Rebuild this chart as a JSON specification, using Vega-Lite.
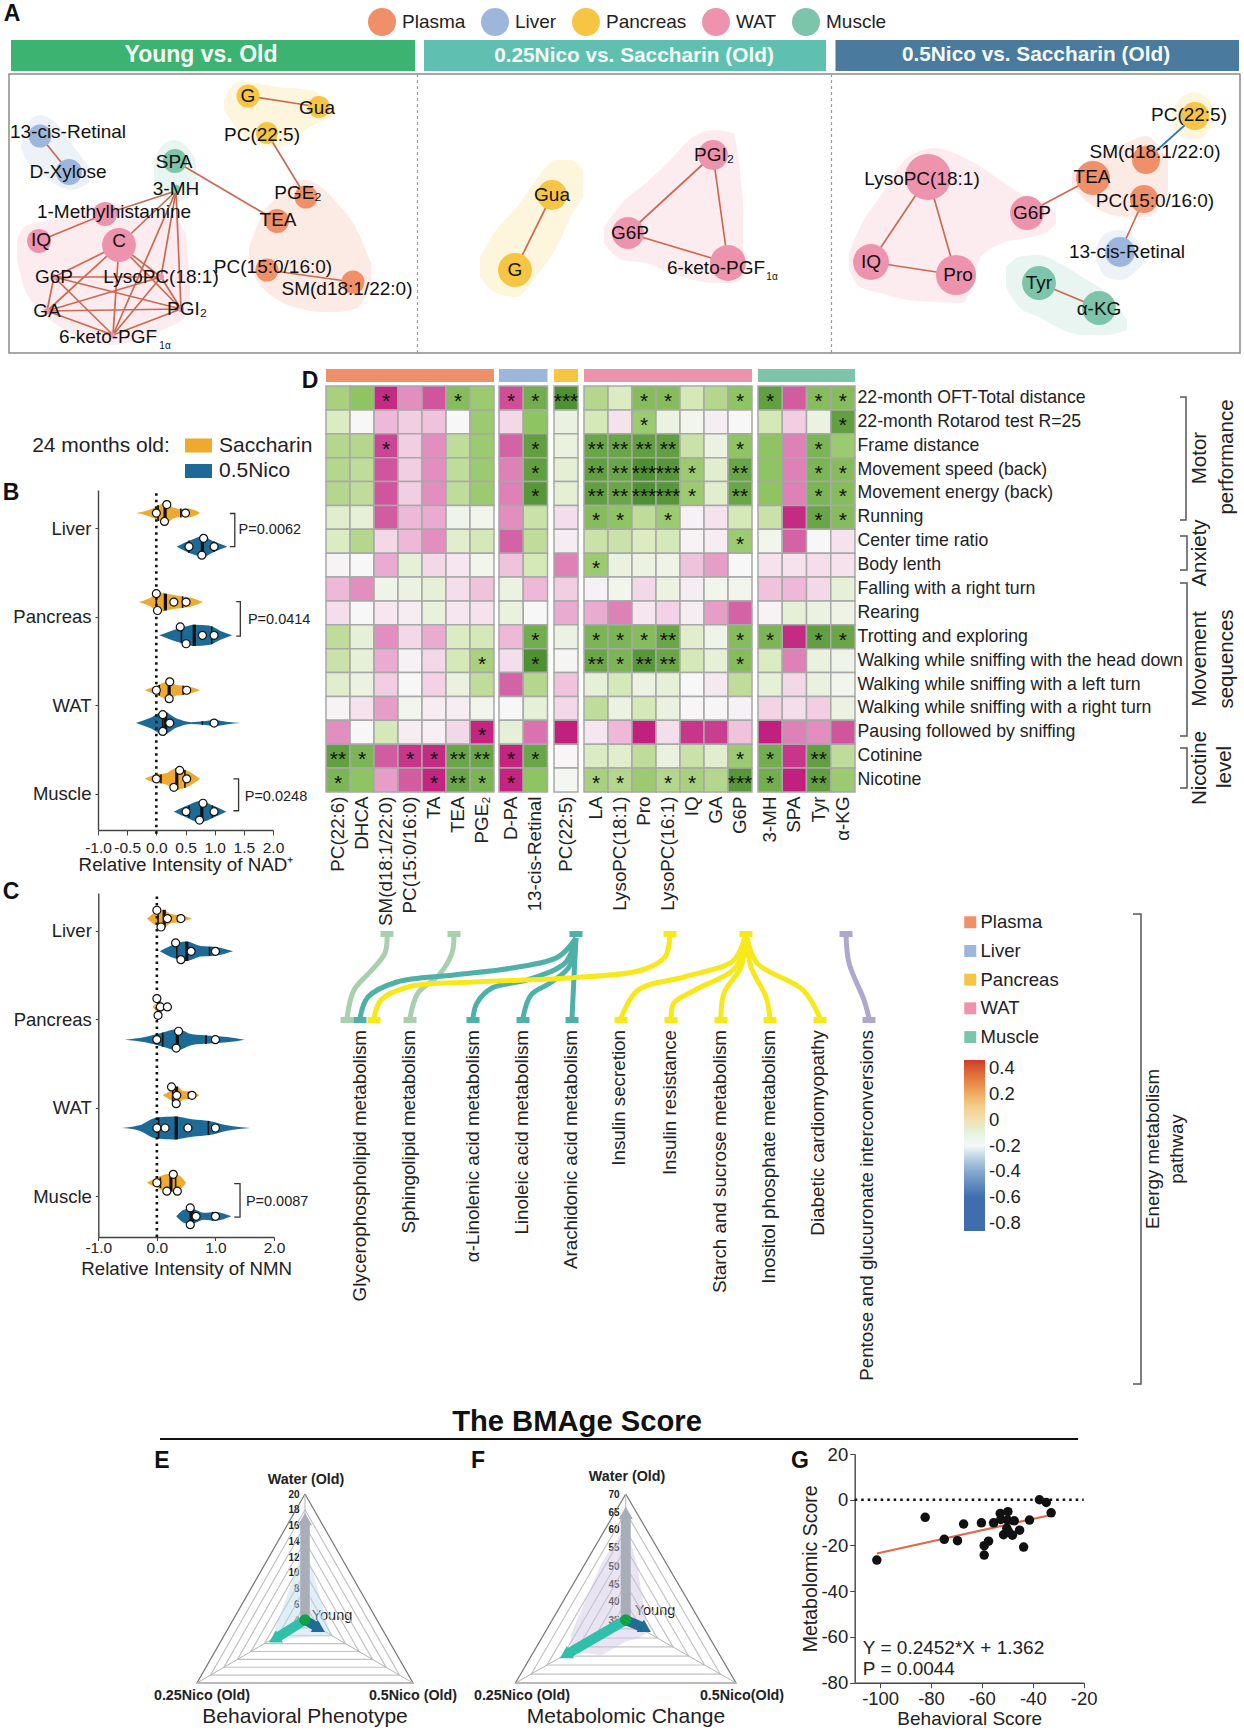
{"$schema":"https://vega.github.io/schema/vega-lite/v6.json","width":1244,"height":1733,"padding":0,"autosize":{"type":"none"},"background":"white",
"config":{"font":"Liberation Sans","view":{"stroke":null},"axis":{"grid":false,"labelFlush":false,"labelColor":"#222","titleColor":"#222","titleFontWeight":"normal","domainColor":"#444","tickColor":"#444","domainWidth":1.4,"labelOverlap":false,"labelFont":"Liberation Sans","titleFont":"Liberation Sans"},"legend":{"labelFont":"Liberation Sans","labelColor":"#222","padding":0},"text":{"font":"Liberation Sans"}},
"resolve":{"scale":{"x":"independent","y":"independent","color":"independent","fill":"independent","stroke":"independent","size":"independent","angle":"independent"},"axis":{"x":"independent","y":"independent"}},
"datasets":{
"hulls":[
{"h":"a1","t":"Liver","x":21,"y":145,"y2":148},{"h":"a1","t":"Liver","x":28,"y":122,"y2":163},{"h":"a1","t":"Liver","x":40,"y":115,"y2":173},{"h":"a1","t":"Liver","x":56,"y":123,"y2":185},{"h":"a1","t":"Liver","x":71,"y":143,"y2":190},{"h":"a1","t":"Liver","x":89,"y":167,"y2":183},
{"h":"a2","t":"Muscle","x":154,"y":160,"y2":187},{"h":"a2","t":"Muscle","x":163,"y":145,"y2":197},{"h":"a2","t":"Muscle","x":175,"y":140,"y2":202},{"h":"a2","t":"Muscle","x":187,"y":147,"y2":198},{"h":"a2","t":"Muscle","x":196,"y":160,"y2":190},
{"h":"a3","t":"WAT","x":17,"y":240,"y2":260},{"h":"a3","t":"WAT","x":24,"y":227,"y2":287},{"h":"a3","t":"WAT","x":40,"y":222,"y2":310},{"h":"a3","t":"WAT","x":60,"y":218,"y2":327},{"h":"a3","t":"WAT","x":87,"y":207,"y2":340},{"h":"a3","t":"WAT","x":113,"y":203,"y2":345},{"h":"a3","t":"WAT","x":139,"y":213,"y2":340},{"h":"a3","t":"WAT","x":167,"y":210,"y2":328},{"h":"a3","t":"WAT","x":185,"y":233,"y2":317},{"h":"a3","t":"WAT","x":190,"y":283,"y2":310},
{"h":"a4","t":"Plasma","x":249,"y":248,"y2":267},{"h":"a4","t":"Plasma","x":262,"y":215,"y2":287},{"h":"a4","t":"Plasma","x":278,"y":197,"y2":300},{"h":"a4","t":"Plasma","x":306,"y":180,"y2":310},{"h":"a4","t":"Plasma","x":321,"y":187,"y2":312},{"h":"a4","t":"Plasma","x":337,"y":203,"y2":312},{"h":"a4","t":"Plasma","x":357,"y":230,"y2":308},{"h":"a4","t":"Plasma","x":371,"y":263,"y2":283},
{"h":"a5","t":"Pancreas","x":224,"y":100,"y2":110},{"h":"a5","t":"Pancreas","x":238,"y":82,"y2":130},{"h":"a5","t":"Pancreas","x":254,"y":83,"y2":143},{"h":"a5","t":"Pancreas","x":278,"y":87,"y2":147},{"h":"a5","t":"Pancreas","x":310,"y":90,"y2":127},{"h":"a5","t":"Pancreas","x":335,"y":107,"y2":115},
{"h":"b1","t":"Pancreas","x":480,"y":257,"y2":277},{"h":"b1","t":"Pancreas","x":496,"y":230,"y2":293},{"h":"b1","t":"Pancreas","x":516,"y":208,"y2":297},{"h":"b1","t":"Pancreas","x":536,"y":180,"y2":277},{"h":"b1","t":"Pancreas","x":556,"y":160,"y2":248},{"h":"b1","t":"Pancreas","x":571,"y":160,"y2":217},{"h":"b1","t":"Pancreas","x":583,"y":170,"y2":197},
{"h":"b2","t":"WAT","x":604,"y":227,"y2":243},{"h":"b2","t":"WAT","x":622,"y":203,"y2":260},{"h":"b2","t":"WAT","x":646,"y":183,"y2":263},{"h":"b2","t":"WAT","x":670,"y":160,"y2":273},{"h":"b2","t":"WAT","x":693,"y":137,"y2":280},{"h":"b2","t":"WAT","x":713,"y":130,"y2":283},{"h":"b2","t":"WAT","x":733,"y":133,"y2":283},{"h":"b2","t":"WAT","x":743,"y":200,"y2":277},
{"h":"c1","t":"WAT","x":849,"y":253,"y2":270},{"h":"c1","t":"WAT","x":860,"y":227,"y2":287},{"h":"c1","t":"WAT","x":880,"y":197,"y2":293},{"h":"c1","t":"WAT","x":908,"y":157,"y2":300},{"h":"c1","t":"WAT","x":935,"y":148,"y2":302},{"h":"c1","t":"WAT","x":963,"y":157,"y2":303},{"h":"c1","t":"WAT","x":981,"y":167,"y2":257},{"h":"c1","t":"WAT","x":1003,"y":182,"y2":243},{"h":"c1","t":"WAT","x":1027,"y":197,"y2":238},{"h":"c1","t":"WAT","x":1047,"y":203,"y2":232},{"h":"c1","t":"WAT","x":1056,"y":213,"y2":223},
{"h":"c2","t":"Plasma","x":1072,"y":173,"y2":187},{"h":"c2","t":"Plasma","x":1094,"y":157,"y2":207},{"h":"c2","t":"Plasma","x":1126,"y":143,"y2":217},{"h":"c2","t":"Plasma","x":1146,"y":136,"y2":217},{"h":"c2","t":"Plasma","x":1168,"y":160,"y2":193},
{"h":"c3","t":"Pancreas","x":1172,"y":110,"y2":123},{"h":"c3","t":"Pancreas","x":1182,"y":97,"y2":137},{"h":"c3","t":"Pancreas","x":1195,"y":92,"y2":140},{"h":"c3","t":"Pancreas","x":1209,"y":100,"y2":130},{"h":"c3","t":"Pancreas","x":1215,"y":110,"y2":120},
{"h":"c4","t":"Liver","x":1096,"y":247,"y2":260},{"h":"c4","t":"Liver","x":1106,"y":233,"y2":277},{"h":"c4","t":"Liver","x":1120,"y":230,"y2":280},{"h":"c4","t":"Liver","x":1134,"y":237,"y2":273},{"h":"c4","t":"Liver","x":1144,"y":250,"y2":263},
{"h":"c5","t":"Muscle","x":1006,"y":267,"y2":287},{"h":"c5","t":"Muscle","x":1019,"y":257,"y2":307},{"h":"c5","t":"Muscle","x":1039,"y":255,"y2":317},{"h":"c5","t":"Muscle","x":1059,"y":263,"y2":328},{"h":"c5","t":"Muscle","x":1082,"y":277,"y2":335},{"h":"c5","t":"Muscle","x":1106,"y":293,"y2":335},{"h":"c5","t":"Muscle","x":1127,"y":320,"y2":330}],
"edges":[
{"sign":"positive","x":248,"y":96,"x2":319,"y2":107},{"sign":"positive","x":267,"y":133,"x2":306,"y2":197},{"sign":"positive","x":175,"y":161,"x2":277,"y2":221},{"sign":"positive","x":267,"y":270,"x2":353,"y2":282},{"sign":"positive","x":40,"y":136,"x2":69,"y2":172},{"sign":"positive","x":105,"y":214,"x2":39,"y2":241},
{"sign":"positive","x":176,"y":191,"x2":105,"y2":214},{"sign":"positive","x":176,"y":191,"x2":119,"y2":245},{"sign":"positive","x":176,"y":191,"x2":161,"y2":277},{"sign":"positive","x":176,"y":191,"x2":181,"y2":309},{"sign":"positive","x":176,"y":191,"x2":113,"y2":335},
{"sign":"positive","x":119,"y":245,"x2":54,"y2":277},{"sign":"positive","x":119,"y":245,"x2":47,"y2":311},{"sign":"positive","x":119,"y":245,"x2":161,"y2":277},{"sign":"positive","x":119,"y":245,"x2":181,"y2":309},{"sign":"positive","x":119,"y":245,"x2":113,"y2":335},{"sign":"positive","x":54,"y":277,"x2":161,"y2":277},{"sign":"positive","x":54,"y":277,"x2":47,"y2":311},{"sign":"positive","x":54,"y":277,"x2":181,"y2":309},{"sign":"positive","x":54,"y":277,"x2":113,"y2":335},{"sign":"positive","x":161,"y":277,"x2":47,"y2":311},{"sign":"positive","x":161,"y":277,"x2":181,"y2":309},{"sign":"positive","x":161,"y":277,"x2":113,"y2":335},{"sign":"positive","x":47,"y":311,"x2":181,"y2":309},{"sign":"positive","x":47,"y":311,"x2":113,"y2":335},{"sign":"positive","x":181,"y":309,"x2":113,"y2":335},
{"sign":"positive","x":552,"y":195,"x2":515,"y2":270},{"sign":"positive","x":713,"y":155,"x2":628,"y2":233},{"sign":"positive","x":713,"y":155,"x2":728,"y2":263},{"sign":"positive","x":628,"y":233,"x2":728,"y2":263},
{"sign":"positive","x":928,"y":177,"x2":871,"y2":262},{"sign":"positive","x":928,"y":177,"x2":956,"y2":275},{"sign":"positive","x":871,"y":262,"x2":956,"y2":275},{"sign":"positive","x":1027,"y":213,"x2":1093,"y2":178},{"sign":"negative","x":1195,"y":116,"x2":1146,"y2":160},{"sign":"positive","x":1144,"y":199,"x2":1120,"y2":252},{"sign":"positive","x":1039,"y":283,"x2":1099,"y2":308}],
"nodes":[
{"t":"Pancreas","x":248,"y":96,"s":415},{"t":"Pancreas","x":319,"y":107,"s":380},{"t":"Pancreas","x":267,"y":133,"s":380},{"t":"Plasma","x":306,"y":197,"s":415},{"t":"Plasma","x":277,"y":221,"s":450},{"t":"Plasma","x":267,"y":270,"s":415},{"t":"Plasma","x":353,"y":282,"s":415},{"t":"Liver","x":40,"y":136,"s":415},{"t":"Liver","x":69,"y":172,"s":530},{"t":"Muscle","x":175,"y":161,"s":450},{"t":"Muscle","x":176,"y":189,"s":60},{"t":"WAT","x":105,"y":214,"s":450},{"t":"WAT","x":39,"y":241,"s":450},{"t":"WAT","x":119,"y":245,"s":900},{"t":"WAT","x":54,"y":277,"s":30},{"t":"WAT","x":161,"y":277,"s":30},{"t":"WAT","x":47,"y":311,"s":30},{"t":"WAT","x":181,"y":309,"s":30},{"t":"WAT","x":113,"y":335,"s":20},
{"t":"Pancreas","x":552,"y":195,"s":700},{"t":"Pancreas","x":515,"y":270,"s":900},{"t":"WAT","x":713,"y":155,"s":700},{"t":"WAT","x":628,"y":233,"s":800},{"t":"WAT","x":728,"y":263,"s":1010},
{"t":"WAT","x":928,"y":177,"s":1660},{"t":"WAT","x":871,"y":262,"s":1010},{"t":"WAT","x":956,"y":275,"s":1260},{"t":"WAT","x":1027,"y":213,"s":900},{"t":"Plasma","x":1093,"y":178,"s":900},{"t":"Plasma","x":1146,"y":160,"s":615},{"t":"Plasma","x":1144,"y":199,"s":615},{"t":"Pancreas","x":1195,"y":116,"s":615},{"t":"Liver","x":1120,"y":252,"s":700},{"t":"Muscle","x":1039,"y":283,"s":900},{"t":"Muscle","x":1099,"y":308,"s":900}],
"nodeLabels":[
{"l":"G","x":248,"y":96},{"l":"Gua","x":317,"y":108},{"l":"PC(22:5)","x":262,"y":135},{"l":"PGE₂","x":298,"y":193},{"l":"TEA","x":278,"y":220},{"l":"PC(15:0/16:0)","x":273,"y":267},{"l":"SM(d18:1/22:0)","x":347,"y":289},{"l":"13-cis-Retinal","x":68,"y":132},{"l":"D-Xylose","x":68,"y":172},{"l":"SPA","x":174,"y":162},{"l":"3-MH","x":176,"y":189},{"l":"1-Methylhistamine","x":114,"y":212},{"l":"IQ","x":41,"y":240},{"l":"C","x":119,"y":241},{"l":"G6P","x":54,"y":277},{"l":"LysoPC(18:1)","x":161,"y":277},{"l":"GA","x":47,"y":311},{"l":"PGI₂","x":187,"y":309},{"l":"6-keto-PGF","x":108,"y":337},
{"l":"Gua","x":552,"y":195},{"l":"G","x":515,"y":270},{"l":"PGI₂","x":714,"y":155},{"l":"G6P","x":630,"y":233},{"l":"6-keto-PGF","x":716,"y":268},
{"l":"LysoPC(18:1)","x":922,"y":179},{"l":"IQ","x":871,"y":262},{"l":"Pro","x":958,"y":275},{"l":"G6P","x":1032,"y":213},{"l":"TEA","x":1092,"y":177},{"l":"SM(d18:1/22:0)","x":1155,"y":152},{"l":"PC(15:0/16:0)","x":1155,"y":201},{"l":"PC(22:5)","x":1189,"y":115},{"l":"13-cis-Retinal","x":1127,"y":252},{"l":"Tyr","x":1039,"y":283},{"l":"α-KG","x":1099,"y":309}],
"violinsB":[
{"v":"LS","g":"Saccharin","x":-0.35,"y":3.17,"y2":3.17},{"v":"LS","g":"Saccharin","x":-0.15,"y":3.2,"y2":3.14},{"v":"LS","g":"Saccharin","x":0,"y":3.24,"y2":3.1},{"v":"LS","g":"Saccharin","x":0.15,"y":3.29,"y2":3.05},{"v":"LS","g":"Saccharin","x":0.3,"y":3.23,"y2":3.11},{"v":"LS","g":"Saccharin","x":0.42,"y":3.215,"y2":3.125},{"v":"LS","g":"Saccharin","x":0.55,"y":3.22,"y2":3.12},{"v":"LS","g":"Saccharin","x":0.75,"y":3.17,"y2":3.17},
{"v":"LN","g":"0.5Nico","x":0.35,"y":2.79,"y2":2.79},{"v":"LN","g":"0.5Nico","x":0.5,"y":2.84,"y2":2.74},{"v":"LN","g":"0.5Nico","x":0.65,"y":2.88,"y2":2.7},{"v":"LN","g":"0.5Nico","x":0.8,"y":2.91,"y2":2.67},{"v":"LN","g":"0.5Nico","x":0.95,"y":2.86,"y2":2.72},{"v":"LN","g":"0.5Nico","x":1.1,"y":2.82,"y2":2.76},{"v":"LN","g":"0.5Nico","x":1.22,"y":2.79,"y2":2.79},
{"v":"PS","g":"Saccharin","x":-0.3,"y":2.165,"y2":2.165},{"v":"PS","g":"Saccharin","x":-0.1,"y":2.215,"y2":2.115},{"v":"PS","g":"Saccharin","x":0.05,"y":2.275,"y2":2.055},{"v":"PS","g":"Saccharin","x":0.2,"y":2.255,"y2":2.075},{"v":"PS","g":"Saccharin","x":0.4,"y":2.235,"y2":2.095},{"v":"PS","g":"Saccharin","x":0.6,"y":2.215,"y2":2.115},{"v":"PS","g":"Saccharin","x":0.8,"y":2.165,"y2":2.165},
{"v":"PN","g":"0.5Nico","x":0.05,"y":1.79,"y2":1.79},{"v":"PN","g":"0.5Nico","x":0.25,"y":1.84,"y2":1.74},{"v":"PN","g":"0.5Nico","x":0.45,"y":1.88,"y2":1.7},{"v":"PN","g":"0.5Nico","x":0.65,"y":1.91,"y2":1.67},{"v":"PN","g":"0.5Nico","x":0.9,"y":1.9,"y2":1.68},{"v":"PN","g":"0.5Nico","x":1.1,"y":1.84,"y2":1.74},{"v":"PN","g":"0.5Nico","x":1.3,"y":1.79,"y2":1.79},
{"v":"WS","g":"Saccharin","x":-0.2,"y":1.17,"y2":1.17},{"v":"WS","g":"Saccharin","x":0,"y":1.22,"y2":1.12},{"v":"WS","g":"Saccharin","x":0.2,"y":1.27,"y2":1.07},{"v":"WS","g":"Saccharin","x":0.35,"y":1.23,"y2":1.11},{"v":"WS","g":"Saccharin","x":0.5,"y":1.22,"y2":1.12},{"v":"WS","g":"Saccharin","x":0.75,"y":1.17,"y2":1.17},
{"v":"WN","g":"0.5Nico","x":-0.35,"y":0.8,"y2":0.8},{"v":"WN","g":"0.5Nico","x":-0.1,"y":0.86,"y2":0.74},{"v":"WN","g":"0.5Nico","x":0.12,"y":0.93,"y2":0.67},{"v":"WN","g":"0.5Nico","x":0.35,"y":0.85,"y2":0.75},{"v":"WN","g":"0.5Nico","x":0.6,"y":0.81,"y2":0.79},{"v":"WN","g":"0.5Nico","x":0.8,"y":0.82,"y2":0.78},{"v":"WN","g":"0.5Nico","x":1,"y":0.835,"y2":0.765},{"v":"WN","g":"0.5Nico","x":1.2,"y":0.815,"y2":0.785},{"v":"WN","g":"0.5Nico","x":1.45,"y":0.8,"y2":0.8},
{"v":"MS","g":"Saccharin","x":-0.2,"y":0.17,"y2":0.17},{"v":"MS","g":"Saccharin","x":0,"y":0.22,"y2":0.12},{"v":"MS","g":"Saccharin","x":0.15,"y":0.23,"y2":0.11},{"v":"MS","g":"Saccharin","x":0.35,"y":0.29,"y2":0.05},{"v":"MS","g":"Saccharin","x":0.5,"y":0.27,"y2":0.07},{"v":"MS","g":"Saccharin","x":0.75,"y":0.17,"y2":0.17},
{"v":"MN","g":"0.5Nico","x":0.3,"y":-0.2,"y2":-0.2},{"v":"MN","g":"0.5Nico","x":0.5,"y":-0.14,"y2":-0.26},{"v":"MN","g":"0.5Nico","x":0.75,"y":-0.08,"y2":-0.32},{"v":"MN","g":"0.5Nico","x":1,"y":-0.14,"y2":-0.26},{"v":"MN","g":"0.5Nico","x":1.2,"y":-0.2,"y2":-0.2}],
"statsB":[
{"k":"median","x":0.15,"y":3.28,"y2":3.06},{"k":"quartile","x":0.03,"y":3.26,"y2":3.08},{"k":"quartile","x":0.42,"y":3.22,"y2":3.12},
{"k":"median","x":0.79,"y":2.9,"y2":2.68},{"k":"quartile","x":0.56,"y":2.86,"y2":2.72},{"k":"quartile","x":0.99,"y":2.85,"y2":2.73},
{"k":"median","x":0.155,"y":2.26,"y2":2.07},{"k":"quartile","x":0,"y":2.27,"y2":2.06},{"k":"quartile","x":0.45,"y":2.23,"y2":2.1},
{"k":"median","x":0.65,"y":1.91,"y2":1.67},{"k":"quartile","x":0.43,"y":1.88,"y2":1.7},{"k":"quartile","x":0.95,"y":1.89,"y2":1.69},
{"k":"median","x":0.22,"y":1.27,"y2":1.07},{"k":"quartile","x":0.05,"y":1.23,"y2":1.11},{"k":"quartile","x":0.46,"y":1.22,"y2":1.12},
{"k":"median","x":0.16,"y":0.92,"y2":0.68},{"k":"quartile","x":0.11,"y":0.93,"y2":0.67},{"k":"quartile","x":0.79,"y":0.82,"y2":0.78},
{"k":"median","x":0.35,"y":0.29,"y2":0.05},{"k":"quartile","x":0.08,"y":0.22,"y2":0.12},{"k":"quartile","x":0.49,"y":0.27,"y2":0.07},
{"k":"median","x":0.78,"y":-0.08,"y2":-0.32},{"k":"quartile","x":0.56,"y":-0.13,"y2":-0.27},{"k":"quartile","x":0.96,"y":-0.13,"y2":-0.27}],
"dotsB":[{"x":0,"y":3.17},{"x":0.18,"y":3.265},{"x":0.14,"y":3.075},{"x":0.5,"y":3.17},{"x":0.56,"y":2.79},{"x":0.81,"y":2.885},{"x":0.78,"y":2.695},{"x":0.99,"y":2.79},{"x":0,"y":2.26},{"x":0.02,"y":2.07},{"x":0.3,"y":2.165},{"x":0.51,"y":2.165},{"x":0.41,"y":1.885},{"x":0.51,"y":1.695},{"x":0.79,"y":1.79},{"x":0.99,"y":1.79},{"x":0,"y":1.17},{"x":0.23,"y":1.265},{"x":0.22,"y":1.075},{"x":0.52,"y":1.17},{"x":0.11,"y":0.895},{"x":0.23,"y":0.8},{"x":0.11,"y":0.705},{"x":0.99,"y":0.8},{"x":0,"y":0.17},{"x":0.4,"y":0.265},{"x":0.3,"y":0.075},{"x":0.52,"y":0.17},{"x":0.51,"y":-0.2},{"x":0.8,"y":-0.105},{"x":0.74,"y":-0.295},{"x":0.99,"y":-0.2}],
"bracketsB":[{"b":"L","i":0,"x":1.26,"y":3.165},{"b":"L","i":1,"x":1.345,"y":3.165},{"b":"L","i":2,"x":1.345,"y":2.79},{"b":"L","i":3,"x":1.26,"y":2.79},{"b":"P","i":0,"x":1.37,"y":2.17},{"b":"P","i":1,"x":1.44,"y":2.17},{"b":"P","i":2,"x":1.44,"y":1.78},{"b":"P","i":3,"x":1.37,"y":1.78},{"b":"M","i":0,"x":1.32,"y":0.17},{"b":"M","i":1,"x":1.41,"y":0.17},{"b":"M","i":2,"x":1.41,"y":-0.19},{"b":"M","i":3,"x":1.32,"y":-0.19}],
"pB":[{"l":"P=0.0062","x":1.41,"y":2.98},{"l":"P=0.0414","x":1.57,"y":1.96},{"l":"P=0.0248","x":1.515,"y":-0.03}],
"violinsC":[
{"v":"LS","g":"Saccharin","x":-0.17,"y":3.14,"y2":3.14},{"v":"LS","g":"Saccharin","x":-0.03,"y":3.21,"y2":3.07},{"v":"LS","g":"Saccharin","x":0.1,"y":3.24,"y2":3.04},{"v":"LS","g":"Saccharin","x":0.25,"y":3.19,"y2":3.09},{"v":"LS","g":"Saccharin","x":0.4,"y":3.18,"y2":3.1},{"v":"LS","g":"Saccharin","x":0.6,"y":3.14,"y2":3.14},
{"v":"LN","g":"0.5Nico","x":0.05,"y":2.77,"y2":2.77},{"v":"LN","g":"0.5Nico","x":0.3,"y":2.85,"y2":2.69},{"v":"LN","g":"0.5Nico","x":0.5,"y":2.88,"y2":2.66},{"v":"LN","g":"0.5Nico","x":0.75,"y":2.83,"y2":2.71},{"v":"LN","g":"0.5Nico","x":1,"y":2.82,"y2":2.72},{"v":"LN","g":"0.5Nico","x":1.3,"y":2.77,"y2":2.77},
{"v":"PS","g":"Saccharin","x":-0.07,"y":2.14,"y2":2.14},{"v":"PS","g":"Saccharin","x":0,"y":2.19,"y2":2.09},{"v":"PS","g":"Saccharin","x":0.06,"y":2.21,"y2":2.07},{"v":"PS","g":"Saccharin","x":0.12,"y":2.14,"y2":2.14},
{"v":"PN","g":"0.5Nico","x":-0.55,"y":1.77,"y2":1.77},{"v":"PN","g":"0.5Nico","x":-0.2,"y":1.8,"y2":1.74},{"v":"PN","g":"0.5Nico","x":0.1,"y":1.85,"y2":1.69},{"v":"PN","g":"0.5Nico","x":0.35,"y":1.89,"y2":1.65},{"v":"PN","g":"0.5Nico","x":0.6,"y":1.83,"y2":1.71},{"v":"PN","g":"0.5Nico","x":0.9,"y":1.815,"y2":1.725},{"v":"PN","g":"0.5Nico","x":1.2,"y":1.8,"y2":1.74},{"v":"PN","g":"0.5Nico","x":1.5,"y":1.77,"y2":1.77},
{"v":"WS","g":"Saccharin","x":0.1,"y":1.14,"y2":1.14},{"v":"WS","g":"Saccharin","x":0.25,"y":1.2,"y2":1.08},{"v":"WS","g":"Saccharin","x":0.35,"y":1.24,"y2":1.04},{"v":"WS","g":"Saccharin","x":0.45,"y":1.19,"y2":1.09},{"v":"WS","g":"Saccharin","x":0.6,"y":1.18,"y2":1.1},{"v":"WS","g":"Saccharin","x":0.73,"y":1.14,"y2":1.14},
{"v":"WN","g":"0.5Nico","x":-0.6,"y":0.77,"y2":0.77},{"v":"WN","g":"0.5Nico","x":-0.3,"y":0.8,"y2":0.74},{"v":"WN","g":"0.5Nico","x":0,"y":0.89,"y2":0.65},{"v":"WN","g":"0.5Nico","x":0.3,"y":0.9,"y2":0.64},{"v":"WN","g":"0.5Nico","x":0.6,"y":0.87,"y2":0.67},{"v":"WN","g":"0.5Nico","x":0.9,"y":0.85,"y2":0.69},{"v":"WN","g":"0.5Nico","x":1.2,"y":0.8,"y2":0.74},{"v":"WN","g":"0.5Nico","x":1.6,"y":0.77,"y2":0.77},
{"v":"MS","g":"Saccharin","x":-0.17,"y":0.15,"y2":0.15},{"v":"MS","g":"Saccharin","x":0,"y":0.21,"y2":0.09},{"v":"MS","g":"Saccharin","x":0.2,"y":0.25,"y2":0.05},{"v":"MS","g":"Saccharin","x":0.32,"y":0.25,"y2":0.05},{"v":"MS","g":"Saccharin","x":0.5,"y":0.15,"y2":0.15},
{"v":"MN","g":"0.5Nico","x":0.33,"y":-0.23,"y2":-0.23},{"v":"MN","g":"0.5Nico","x":0.5,"y":-0.15,"y2":-0.31},{"v":"MN","g":"0.5Nico","x":0.62,"y":-0.15,"y2":-0.31},{"v":"MN","g":"0.5Nico","x":0.8,"y":-0.19,"y2":-0.27},{"v":"MN","g":"0.5Nico","x":1,"y":-0.18,"y2":-0.28},{"v":"MN","g":"0.5Nico","x":1.27,"y":-0.23,"y2":-0.23}],
"statsC":[
{"k":"median","x":0.125,"y":3.24,"y2":3.04},{"k":"quartile","x":0.02,"y":3.22,"y2":3.06},{"k":"quartile","x":0.36,"y":3.18,"y2":3.1},
{"k":"median","x":0.51,"y":2.88,"y2":2.66},{"k":"quartile","x":0.34,"y":2.85,"y2":2.69},{"k":"quartile","x":0.9,"y":2.82,"y2":2.72},
{"k":"median","x":0.03,"y":2.24,"y2":2.04},{"k":"quartile","x":0.02,"y":2.22,"y2":2.06},
{"k":"median","x":0.35,"y":1.89,"y2":1.65},{"k":"quartile","x":0.1,"y":1.85,"y2":1.69},{"k":"quartile","x":0.84,"y":1.82,"y2":1.72},
{"k":"median","x":0.335,"y":1.24,"y2":1.04},{"k":"quartile","x":0.27,"y":1.22,"y2":1.06},{"k":"quartile","x":0.54,"y":1.18,"y2":1.1},
{"k":"median","x":0.33,"y":0.9,"y2":0.64},{"k":"quartile","x":0.03,"y":0.89,"y2":0.65},{"k":"quartile","x":0.88,"y":0.85,"y2":0.69},
{"k":"median","x":0.24,"y":0.25,"y2":0.05},{"k":"quartile","x":0.06,"y":0.21,"y2":0.09},{"k":"quartile","x":0.32,"y":0.25,"y2":0.05},
{"k":"median","x":0.61,"y":-0.13,"y2":-0.33},{"k":"quartile","x":0.57,"y":-0.15,"y2":-0.31},{"k":"quartile","x":0.95,"y":-0.18,"y2":-0.28}],
"dotsC":[{"x":0,"y":3.235},{"x":0.18,"y":3.14},{"x":0.07,"y":3.045},{"x":0.41,"y":3.14},{"x":0.32,"y":2.865},{"x":0.585,"y":2.77},{"x":0.41,"y":2.675},{"x":1,"y":2.77},{"x":0,"y":2.235},{"x":0.06,"y":2.14},{"x":0.02,"y":2.045},{"x":0.18,"y":2.14},{"x":0.37,"y":1.865},{"x":0,"y":1.77},{"x":0.33,"y":1.675},{"x":1,"y":1.77},{"x":0.25,"y":1.235},{"x":0.34,"y":1.14},{"x":0.33,"y":1.045},{"x":0.6,"y":1.14},{"x":0,"y":0.77},{"x":0.14,"y":0.77},{"x":0.53,"y":0.77},{"x":1,"y":0.77},{"x":0,"y":0.15},{"x":0.28,"y":0.245},{"x":0.17,"y":0.055},{"x":0.35,"y":0.055},{"x":0.57,"y":-0.135},{"x":0.67,"y":-0.23},{"x":0.57,"y":-0.325},{"x":1,"y":-0.23}],
"plasma":[
{"m":"PC(22:6)","r":0,"v":0.5},{"m":"DHCA","r":0,"v":0.6},{"m":"SM(d18:1/22:0)","r":0,"v":-0.95,"s":"*"},{"m":"PC(15:0/16:0)","r":0,"v":-0.45},{"m":"TA","r":0,"v":-0.7},{"m":"TEA","r":0,"v":0.65,"s":"*"},{"m":"PGE₂","r":0,"v":0.55},
{"m":"PC(22:6)","r":1,"v":0.25},{"m":"DHCA","r":1,"v":0},{"m":"SM(d18:1/22:0)","r":1,"v":-0.3},{"m":"PC(15:0/16:0)","r":1,"v":-0.2},{"m":"TA","r":1,"v":-0.25},{"m":"TEA","r":1,"v":0},{"m":"PGE₂","r":1,"v":0.55},
{"m":"PC(22:6)","r":2,"v":0.45},{"m":"DHCA","r":2,"v":0.45},{"m":"SM(d18:1/22:0)","r":2,"v":-0.8,"s":"*"},{"m":"PC(15:0/16:0)","r":2,"v":-0.2},{"m":"TA","r":2,"v":-0.45},{"m":"TEA","r":2,"v":0.4},{"m":"PGE₂","r":2,"v":0.55},
{"m":"PC(22:6)","r":3,"v":0.45},{"m":"DHCA","r":3,"v":0.4},{"m":"SM(d18:1/22:0)","r":3,"v":-0.7},{"m":"PC(15:0/16:0)","r":3,"v":-0.2},{"m":"TA","r":3,"v":-0.45},{"m":"TEA","r":3,"v":0.4},{"m":"PGE₂","r":3,"v":0.55},
{"m":"PC(22:6)","r":4,"v":0.45},{"m":"DHCA","r":4,"v":0.4},{"m":"SM(d18:1/22:0)","r":4,"v":-0.7},{"m":"PC(15:0/16:0)","r":4,"v":-0.2},{"m":"TA","r":4,"v":-0.45},{"m":"TEA","r":4,"v":0.4},{"m":"PGE₂","r":4,"v":0.55},
{"m":"PC(22:6)","r":5,"v":0.2},{"m":"DHCA","r":5,"v":0.15},{"m":"SM(d18:1/22:0)","r":5,"v":-0.65},{"m":"PC(15:0/16:0)","r":5,"v":-0.3},{"m":"TA","r":5,"v":-0.35},{"m":"TEA","r":5,"v":0.07},{"m":"PGE₂","r":5,"v":0.05},
{"m":"PC(22:6)","r":6,"v":0.25},{"m":"DHCA","r":6,"v":0.45},{"m":"SM(d18:1/22:0)","r":6,"v":-0.15},{"m":"PC(15:0/16:0)","r":6,"v":-0.3},{"m":"TA","r":6,"v":-0.45},{"m":"TEA","r":6,"v":0.2},{"m":"PGE₂","r":6,"v":0.3},
{"m":"PC(22:6)","r":7,"v":-0.02},{"m":"DHCA","r":7,"v":0},{"m":"SM(d18:1/22:0)","r":7,"v":-0.35},{"m":"PC(15:0/16:0)","r":7,"v":0.15},{"m":"TA","r":7,"v":-0.15},{"m":"TEA","r":7,"v":-0.08},{"m":"PGE₂","r":7,"v":0.05},
{"m":"PC(22:6)","r":8,"v":-0.3},{"m":"DHCA","r":8,"v":-0.45},{"m":"SM(d18:1/22:0)","r":8,"v":0.07},{"m":"PC(15:0/16:0)","r":8,"v":0.1},{"m":"TA","r":8,"v":0.15},{"m":"TEA","r":8,"v":-0.12},{"m":"PGE₂","r":8,"v":-0.25},
{"m":"PC(22:6)","r":9,"v":-0.12},{"m":"DHCA","r":9,"v":0},{"m":"SM(d18:1/22:0)","r":9,"v":-0.08},{"m":"PC(15:0/16:0)","r":9,"v":-0.05},{"m":"TA","r":9,"v":0.13},{"m":"TEA","r":9,"v":-0.08},{"m":"PGE₂","r":9,"v":-0.1},
{"m":"PC(22:6)","r":10,"v":0.4},{"m":"DHCA","r":10,"v":0.15},{"m":"SM(d18:1/22:0)","r":10,"v":-0.45},{"m":"PC(15:0/16:0)","r":10,"v":-0.15},{"m":"TA","r":10,"v":-0.35},{"m":"TEA","r":10,"v":0.25},{"m":"PGE₂","r":10,"v":0.3},
{"m":"PC(22:6)","r":11,"v":0.35},{"m":"DHCA","r":11,"v":0.15},{"m":"SM(d18:1/22:0)","r":11,"v":-0.35},{"m":"PC(15:0/16:0)","r":11,"v":-0.03},{"m":"TA","r":11,"v":-0.15},{"m":"TEA","r":11,"v":0.3},{"m":"PGE₂","r":11,"v":0.5,"s":"*"},
{"m":"PC(22:6)","r":12,"v":0.2},{"m":"DHCA","r":12,"v":0.1},{"m":"SM(d18:1/22:0)","r":12,"v":-0.2},{"m":"PC(15:0/16:0)","r":12,"v":0},{"m":"TA","r":12,"v":-0.18},{"m":"TEA","r":12,"v":0.12},{"m":"PGE₂","r":12,"v":0.4},
{"m":"PC(22:6)","r":13,"v":-0.02},{"m":"DHCA","r":13,"v":-0.1},{"m":"SM(d18:1/22:0)","r":13,"v":-0.4},{"m":"PC(15:0/16:0)","r":13,"v":0.05},{"m":"TA","r":13,"v":-0.05},{"m":"TEA","r":13,"v":-0.05},{"m":"PGE₂","r":13,"v":0.05},
{"m":"PC(22:6)","r":14,"v":-0.45},{"m":"DHCA","r":14,"v":0},{"m":"SM(d18:1/22:0)","r":14,"v":0.3},{"m":"PC(15:0/16:0)","r":14,"v":-0.05},{"m":"TA","r":14,"v":-0.04},{"m":"TEA","r":14,"v":-0.15},{"m":"PGE₂","r":14,"v":-0.98,"s":"*"},
{"m":"PC(22:6)","r":15,"v":0.85,"s":"**"},{"m":"DHCA","r":15,"v":0.7,"s":"*"},{"m":"SM(d18:1/22:0)","r":15,"v":-0.65},{"m":"PC(15:0/16:0)","r":15,"v":-0.9,"s":"*"},{"m":"TA","r":15,"v":-0.95,"s":"*"},{"m":"TEA","r":15,"v":0.8,"s":"**"},{"m":"PGE₂","r":15,"v":0.8,"s":"**"},
{"m":"PC(22:6)","r":16,"v":0.7,"s":"*"},{"m":"DHCA","r":16,"v":0.6},{"m":"SM(d18:1/22:0)","r":16,"v":-0.4},{"m":"PC(15:0/16:0)","r":16,"v":-0.65},{"m":"TA","r":16,"v":-0.98,"s":"*"},{"m":"TEA","r":16,"v":0.8,"s":"**"},{"m":"PGE₂","r":16,"v":0.7,"s":"*"}],
"liver":[
{"m":"D-PA","r":0,"v":-0.75,"s":"*"},{"m":"13-cis-Retinal","r":0,"v":0.75,"s":"*"},{"m":"D-PA","r":1,"v":-0.15},{"m":"13-cis-Retinal","r":1,"v":0.6},{"m":"D-PA","r":2,"v":-0.6},{"m":"13-cis-Retinal","r":2,"v":0.85,"s":"*"},{"m":"D-PA","r":3,"v":-0.5},{"m":"13-cis-Retinal","r":3,"v":0.85,"s":"*"},{"m":"D-PA","r":4,"v":-0.5},{"m":"13-cis-Retinal","r":4,"v":0.9,"s":"*"},{"m":"D-PA","r":5,"v":-0.45},{"m":"13-cis-Retinal","r":5,"v":0.35},{"m":"D-PA","r":6,"v":-0.6},{"m":"13-cis-Retinal","r":6,"v":0.4},{"m":"D-PA","r":7,"v":-0.25},{"m":"13-cis-Retinal","r":7,"v":0.3},{"m":"D-PA","r":8,"v":0.1},{"m":"13-cis-Retinal","r":8,"v":-0.3},{"m":"D-PA","r":9,"v":0.12},{"m":"13-cis-Retinal","r":9,"v":0},{"m":"D-PA","r":10,"v":-0.3},{"m":"13-cis-Retinal","r":10,"v":0.75,"s":"*"},{"m":"D-PA","r":11,"v":-0.12},{"m":"13-cis-Retinal","r":11,"v":0.95,"s":"*"},{"m":"D-PA","r":12,"v":-0.6},{"m":"13-cis-Retinal","r":12,"v":0.45},{"m":"D-PA","r":13,"v":0},{"m":"13-cis-Retinal","r":13,"v":0.15},{"m":"D-PA","r":14,"v":0.15},{"m":"13-cis-Retinal","r":14,"v":-0.55},{"m":"D-PA","r":15,"v":-0.98,"s":"*"},{"m":"13-cis-Retinal","r":15,"v":0.8,"s":"*"},{"m":"D-PA","r":16,"v":-0.98,"s":"*"},{"m":"13-cis-Retinal","r":16,"v":0.6}],
"pancreas":[{"m":"PC(22:5)","r":0,"v":0.95,"s":"***"},{"m":"PC(22:5)","r":1,"v":0.12},{"m":"PC(22:5)","r":2,"v":0.12},{"m":"PC(22:5)","r":3,"v":0.17},{"m":"PC(22:5)","r":4,"v":0.17},{"m":"PC(22:5)","r":5,"v":-0.12},{"m":"PC(22:5)","r":6,"v":-0.05},{"m":"PC(22:5)","r":7,"v":-0.5},{"m":"PC(22:5)","r":8,"v":-0.2},{"m":"PC(22:5)","r":9,"v":-0.35},{"m":"PC(22:5)","r":10,"v":0.1},{"m":"PC(22:5)","r":11,"v":0.02},{"m":"PC(22:5)","r":12,"v":-0.25},{"m":"PC(22:5)","r":13,"v":-0.15},{"m":"PC(22:5)","r":14,"v":-1},{"m":"PC(22:5)","r":15,"v":-0.01},{"m":"PC(22:5)","r":16,"v":0.03}],
"wat":[
{"m":"LA","r":0,"v":0.45},{"m":"LysoPC(18:1)","r":0,"v":0.25},{"m":"Pro","r":0,"v":0.65,"s":"*"},{"m":"LysoPC(16:1)","r":0,"v":0.65,"s":"*"},{"m":"IQ","r":0,"v":0.3},{"m":"GA","r":0,"v":0.45},{"m":"G6P","r":0,"v":0.6,"s":"*"},
{"m":"LA","r":1,"v":0.3},{"m":"LysoPC(18:1)","r":1,"v":-0.1},{"m":"Pro","r":1,"v":0.55,"s":"*"},{"m":"LysoPC(16:1)","r":1,"v":0.1},{"m":"IQ","r":1,"v":0.05},{"m":"GA","r":1,"v":-0.05},{"m":"G6P","r":1,"v":0},
{"m":"LA","r":2,"v":0.8,"s":"**"},{"m":"LysoPC(18:1)","r":2,"v":0.8,"s":"**"},{"m":"Pro","r":2,"v":0.85,"s":"**"},{"m":"LysoPC(16:1)","r":2,"v":0.85,"s":"**"},{"m":"IQ","r":2,"v":0.35},{"m":"GA","r":2,"v":0.1},{"m":"G6P","r":2,"v":0.6,"s":"*"},
{"m":"LA","r":3,"v":0.85,"s":"**"},{"m":"LysoPC(18:1)","r":3,"v":0.8,"s":"**"},{"m":"Pro","r":3,"v":0.95,"s":"***"},{"m":"LysoPC(16:1)","r":3,"v":0.9,"s":"***"},{"m":"IQ","r":3,"v":0.55,"s":"*"},{"m":"GA","r":3,"v":0.2},{"m":"G6P","r":3,"v":0.8,"s":"**"},
{"m":"LA","r":4,"v":0.85,"s":"**"},{"m":"LysoPC(18:1)","r":4,"v":0.8,"s":"**"},{"m":"Pro","r":4,"v":0.95,"s":"***"},{"m":"LysoPC(16:1)","r":4,"v":0.9,"s":"***"},{"m":"IQ","r":4,"v":0.55,"s":"*"},{"m":"GA","r":4,"v":0.2},{"m":"G6P","r":4,"v":0.8,"s":"**"},
{"m":"LA","r":5,"v":0.65,"s":"*"},{"m":"LysoPC(18:1)","r":5,"v":0.6,"s":"*"},{"m":"Pro","r":5,"v":0.4},{"m":"LysoPC(16:1)","r":5,"v":0.55,"s":"*"},{"m":"IQ","r":5,"v":-0.03},{"m":"GA","r":5,"v":-0.1},{"m":"G6P","r":5,"v":0.3},
{"m":"LA","r":6,"v":0.35},{"m":"LysoPC(18:1)","r":6,"v":0.35},{"m":"Pro","r":6,"v":0.25},{"m":"LysoPC(16:1)","r":6,"v":0.3},{"m":"IQ","r":6,"v":-0.02},{"m":"GA","r":6,"v":-0.05},{"m":"G6P","r":6,"v":0.55,"s":"*"},
{"m":"LA","r":7,"v":0.55,"s":"*"},{"m":"LysoPC(18:1)","r":7,"v":0.12},{"m":"Pro","r":7,"v":0.1},{"m":"LysoPC(16:1)","r":7,"v":0.08},{"m":"IQ","r":7,"v":-0.25},{"m":"GA","r":7,"v":-0.4},{"m":"G6P","r":7,"v":0},
{"m":"LA","r":8,"v":-0.03},{"m":"LysoPC(18:1)","r":8,"v":0.05},{"m":"Pro","r":8,"v":-0.15},{"m":"LysoPC(16:1)","r":8,"v":0.1},{"m":"IQ","r":8,"v":-0.05},{"m":"GA","r":8,"v":0.05},{"m":"G6P","r":8,"v":0.05},
{"m":"LA","r":9,"v":-0.35},{"m":"LysoPC(18:1)","r":9,"v":-0.5},{"m":"Pro","r":9,"v":-0.08},{"m":"LysoPC(16:1)","r":9,"v":-0.18},{"m":"IQ","r":9,"v":-0.05},{"m":"GA","r":9,"v":-0.4},{"m":"G6P","r":9,"v":-0.6},
{"m":"LA","r":10,"v":0.7,"s":"*"},{"m":"LysoPC(18:1)","r":10,"v":0.7,"s":"*"},{"m":"Pro","r":10,"v":0.65,"s":"*"},{"m":"LysoPC(16:1)","r":10,"v":0.8,"s":"**"},{"m":"IQ","r":10,"v":0.2},{"m":"GA","r":10,"v":0.07},{"m":"G6P","r":10,"v":0.65,"s":"*"},
{"m":"LA","r":11,"v":0.8,"s":"**"},{"m":"LysoPC(18:1)","r":11,"v":0.7,"s":"*"},{"m":"Pro","r":11,"v":0.9,"s":"**"},{"m":"LysoPC(16:1)","r":11,"v":0.8,"s":"**"},{"m":"IQ","r":11,"v":0.3},{"m":"GA","r":11,"v":0.15},{"m":"G6P","r":11,"v":0.65,"s":"*"},
{"m":"LA","r":12,"v":0.15},{"m":"LysoPC(18:1)","r":12,"v":0.3},{"m":"Pro","r":12,"v":0.1},{"m":"LysoPC(16:1)","r":12,"v":0.15},{"m":"IQ","r":12,"v":0},{"m":"GA","r":12,"v":-0.07},{"m":"G6P","r":12,"v":0.4},
{"m":"LA","r":13,"v":0.4},{"m":"LysoPC(18:1)","r":13,"v":0.1},{"m":"Pro","r":13,"v":0.3},{"m":"LysoPC(16:1)","r":13,"v":0.12},{"m":"IQ","r":13,"v":-0.01},{"m":"GA","r":13,"v":-0.01},{"m":"G6P","r":13,"v":-0.03},
{"m":"LA","r":14,"v":-0.08},{"m":"LysoPC(18:1)","r":14,"v":-0.3},{"m":"Pro","r":14,"v":-1},{"m":"LysoPC(16:1)","r":14,"v":-0.12},{"m":"IQ","r":14,"v":-0.9},{"m":"GA","r":14,"v":-0.85},{"m":"G6P","r":14,"v":-0.25},
{"m":"LA","r":15,"v":0.25},{"m":"LysoPC(18:1)","r":15,"v":0.2},{"m":"Pro","r":15,"v":0.4},{"m":"LysoPC(16:1)","r":15,"v":0.12},{"m":"IQ","r":15,"v":0.35},{"m":"GA","r":15,"v":0.2},{"m":"G6P","r":15,"v":0.55,"s":"*"},
{"m":"LA","r":16,"v":0.5,"s":"*"},{"m":"LysoPC(18:1)","r":16,"v":0.45,"s":"*"},{"m":"Pro","r":16,"v":0.55},{"m":"LysoPC(16:1)","r":16,"v":0.45,"s":"*"},{"m":"IQ","r":16,"v":0.5,"s":"*"},{"m":"GA","r":16,"v":0.45},{"m":"G6P","r":16,"v":0.9,"s":"***"}],
"muscle":[
{"m":"3-MH","r":0,"v":0.85,"s":"*"},{"m":"SPA","r":0,"v":-0.65},{"m":"Tyr","r":0,"v":0.65,"s":"*"},{"m":"α-KG","r":0,"v":0.65,"s":"*"},
{"m":"3-MH","r":1,"v":0.3},{"m":"SPA","r":1,"v":-0.2},{"m":"Tyr","r":1,"v":0.1},{"m":"α-KG","r":1,"v":0.85,"s":"*"},
{"m":"3-MH","r":2,"v":0.6},{"m":"SPA","r":2,"v":-0.5},{"m":"Tyr","r":2,"v":0.7,"s":"*"},{"m":"α-KG","r":2,"v":0.55},
{"m":"3-MH","r":3,"v":0.6},{"m":"SPA","r":3,"v":-0.5},{"m":"Tyr","r":3,"v":0.7,"s":"*"},{"m":"α-KG","r":3,"v":0.65,"s":"*"},
{"m":"3-MH","r":4,"v":0.6},{"m":"SPA","r":4,"v":-0.5},{"m":"Tyr","r":4,"v":0.7,"s":"*"},{"m":"α-KG","r":4,"v":0.65,"s":"*"},
{"m":"3-MH","r":5,"v":0.35},{"m":"SPA","r":5,"v":-0.95},{"m":"Tyr","r":5,"v":0.8,"s":"*"},{"m":"α-KG","r":5,"v":0.65,"s":"*"},
{"m":"3-MH","r":6,"v":0.05},{"m":"SPA","r":6,"v":-0.6},{"m":"Tyr","r":6,"v":0},{"m":"α-KG","r":6,"v":-0.1},
{"m":"3-MH","r":7,"v":-0.1},{"m":"SPA","r":7,"v":-0.1},{"m":"Tyr","r":7,"v":-0.12},{"m":"α-KG","r":7,"v":-0.1},
{"m":"3-MH","r":8,"v":-0.25},{"m":"SPA","r":8,"v":-0.3},{"m":"Tyr","r":8,"v":-0.15},{"m":"α-KG","r":8,"v":0.15},
{"m":"3-MH","r":9,"v":-0.02},{"m":"SPA","r":9,"v":0.15},{"m":"Tyr","r":9,"v":0.1},{"m":"α-KG","r":9,"v":0.08},
{"m":"3-MH","r":10,"v":0.7,"s":"*"},{"m":"SPA","r":10,"v":-0.95},{"m":"Tyr","r":10,"v":0.85,"s":"*"},{"m":"α-KG","r":10,"v":0.8,"s":"*"},
{"m":"3-MH","r":11,"v":0.25},{"m":"SPA","r":11,"v":-0.5},{"m":"Tyr","r":11,"v":0.12},{"m":"α-KG","r":11,"v":0.07},
{"m":"3-MH","r":12,"v":0.15},{"m":"SPA","r":12,"v":-0.15},{"m":"Tyr","r":12,"v":0.12},{"m":"α-KG","r":12,"v":0.05},
{"m":"3-MH","r":13,"v":-0.17},{"m":"SPA","r":13,"v":-0.12},{"m":"Tyr","r":13,"v":-0.2},{"m":"α-KG","r":13,"v":0.1},
{"m":"3-MH","r":14,"v":-1},{"m":"SPA","r":14,"v":-0.5},{"m":"Tyr","r":14,"v":-0.45},{"m":"α-KG","r":14,"v":-0.7},
{"m":"3-MH","r":15,"v":0.75,"s":"*"},{"m":"SPA","r":15,"v":-0.9},{"m":"Tyr","r":15,"v":0.85,"s":"**"},{"m":"α-KG","r":15,"v":0.4},
{"m":"3-MH","r":16,"v":0.75,"s":"*"},{"m":"SPA","r":16,"v":-1},{"m":"Tyr","r":16,"v":0.85,"s":"**"},{"m":"α-KG","r":16,"v":0.55}],
"links":[
{"l":1,"k":"green","i":0,"x":387,"y":933},{"l":1,"k":"green","i":1,"x":385,"y":953},{"l":1,"k":"green","i":2,"x":370,"y":972},{"l":1,"k":"green","i":3,"x":354,"y":990},{"l":1,"k":"green","i":4,"x":347,"y":1018},
{"l":2,"k":"green","i":0,"x":454,"y":933},{"l":2,"k":"green","i":1,"x":452,"y":953},{"l":2,"k":"green","i":2,"x":439,"y":975},{"l":2,"k":"green","i":3,"x":418,"y":993},{"l":2,"k":"green","i":4,"x":410,"y":1018},
{"l":3,"k":"teal","i":0,"x":576,"y":938},{"l":3,"k":"teal","i":1,"x":558,"y":957},{"l":3,"k":"teal","i":2,"x":512,"y":968},{"l":3,"k":"teal","i":3,"x":454,"y":975},{"l":3,"k":"teal","i":4,"x":397,"y":982},{"l":3,"k":"teal","i":5,"x":368,"y":997},{"l":3,"k":"teal","i":6,"x":360,"y":1018},
{"l":4,"k":"teal","i":0,"x":576,"y":938},{"l":4,"k":"teal","i":1,"x":565,"y":963},{"l":4,"k":"teal","i":2,"x":527,"y":980},{"l":4,"k":"teal","i":3,"x":492,"y":988},{"l":4,"k":"teal","i":4,"x":477,"y":1003},{"l":4,"k":"teal","i":5,"x":473,"y":1018},
{"l":5,"k":"teal","i":0,"x":576,"y":938},{"l":5,"k":"teal","i":1,"x":569,"y":967},{"l":5,"k":"teal","i":2,"x":550,"y":983},{"l":5,"k":"teal","i":3,"x":531,"y":995},{"l":5,"k":"teal","i":4,"x":523,"y":1018},
{"l":6,"k":"teal","i":0,"x":576,"y":938},{"l":6,"k":"teal","i":1,"x":574,"y":977},{"l":6,"k":"teal","i":2,"x":572,"y":1018},
{"l":7,"k":"yellow","i":0,"x":670,"y":933},{"l":7,"k":"yellow","i":1,"x":665,"y":957},{"l":7,"k":"yellow","i":2,"x":642,"y":970},{"l":7,"k":"yellow","i":3,"x":569,"y":978},{"l":7,"k":"yellow","i":4,"x":473,"y":982},{"l":7,"k":"yellow","i":5,"x":408,"y":987},{"l":7,"k":"yellow","i":6,"x":381,"y":1000},{"l":7,"k":"yellow","i":7,"x":374,"y":1018},
{"l":8,"k":"yellow","i":0,"x":746,"y":933},{"l":8,"k":"yellow","i":1,"x":734,"y":960},{"l":8,"k":"yellow","i":2,"x":684,"y":977},{"l":8,"k":"yellow","i":3,"x":638,"y":990},{"l":8,"k":"yellow","i":4,"x":621,"y":1018},
{"l":9,"k":"yellow","i":0,"x":746,"y":933},{"l":9,"k":"yellow","i":1,"x":736,"y":967},{"l":9,"k":"yellow","i":2,"x":695,"y":990},{"l":9,"k":"yellow","i":3,"x":674,"y":1003},{"l":9,"k":"yellow","i":4,"x":671,"y":1018},
{"l":10,"k":"yellow","i":0,"x":746,"y":933},{"l":10,"k":"yellow","i":1,"x":741,"y":967},{"l":10,"k":"yellow","i":2,"x":724,"y":993},{"l":10,"k":"yellow","i":3,"x":721,"y":1018},
{"l":11,"k":"yellow","i":0,"x":746,"y":933},{"l":11,"k":"yellow","i":1,"x":751,"y":967},{"l":11,"k":"yellow","i":2,"x":766,"y":997},{"l":11,"k":"yellow","i":3,"x":770,"y":1018},
{"l":12,"k":"yellow","i":0,"x":746,"y":933},{"l":12,"k":"yellow","i":1,"x":757,"y":963},{"l":12,"k":"yellow","i":2,"x":803,"y":990},{"l":12,"k":"yellow","i":3,"x":820,"y":1018},
{"l":13,"k":"purple","i":0,"x":846,"y":933},{"l":13,"k":"purple","i":1,"x":849,"y":963},{"l":13,"k":"purple","i":2,"x":864,"y":1000},{"l":13,"k":"purple","i":3,"x":869,"y":1018}],
"ends":[{"k":"green","x":387,"y":931,"y2":937},{"k":"green","x":454,"y":931,"y2":937},{"k":"teal","x":576,"y":931,"y2":937},{"k":"yellow","x":670,"y":931,"y2":937},{"k":"yellow","x":746,"y":931,"y2":937},{"k":"purple","x":846,"y":931,"y2":937},{"k":"green","x":347,"y":1017,"y2":1023},{"k":"teal","x":360,"y":1017,"y2":1023},{"k":"yellow","x":374,"y":1017,"y2":1023},{"k":"green","x":410,"y":1017,"y2":1023},{"k":"teal","x":473,"y":1017,"y2":1023},{"k":"teal","x":523,"y":1017,"y2":1023},{"k":"teal","x":572,"y":1017,"y2":1023},{"k":"yellow","x":621,"y":1017,"y2":1023},{"k":"yellow","x":671,"y":1017,"y2":1023},{"k":"yellow","x":721,"y":1017,"y2":1023},{"k":"yellow","x":770,"y":1017,"y2":1023},{"k":"yellow","x":820,"y":1017,"y2":1023},{"k":"purple","x":869,"y":1017,"y2":1023}],
"pathways":[{"l":"Glycerophospholipid metabolism","x":360,"y":1030},{"l":"Sphingolipid metabolism","x":409,"y":1030},{"l":"α-Linolenic acid metabolism","x":473,"y":1030},{"l":"Linoleic acid metabolism","x":522,"y":1030},{"l":"Arachidonic acid metabolism","x":571,"y":1030},{"l":"Insulin secretion","x":619,"y":1030},{"l":"Insulin resistance","x":670,"y":1030},{"l":"Starch and sucrose metabolism","x":720,"y":1030},{"l":"Inositol phosphate metabolism","x":769,"y":1030},{"l":"Diabetic cardiomyopathy","x":818,"y":1030},{"l":"Pentose and glucuronate interconversions","x":867,"y":1030}],
"brackets":[
{"b":"a","i":0,"x":1180,"y":397},{"b":"a","i":1,"x":1186,"y":397},{"b":"a","i":2,"x":1186,"y":520},{"b":"a","i":3,"x":1180,"y":520},
{"b":"b","i":0,"x":1180,"y":536},{"b":"b","i":1,"x":1187,"y":536},{"b":"b","i":2,"x":1187,"y":570},{"b":"b","i":3,"x":1180,"y":570},
{"b":"c","i":0,"x":1180,"y":583},{"b":"c","i":1,"x":1187,"y":583},{"b":"c","i":2,"x":1187,"y":736},{"b":"c","i":3,"x":1180,"y":736},
{"b":"d","i":0,"x":1180,"y":748},{"b":"d","i":1,"x":1187,"y":748},{"b":"d","i":2,"x":1187,"y":788},{"b":"d","i":3,"x":1180,"y":788},
{"b":"e","i":0,"x":1133,"y":914},{"b":"e","i":1,"x":1141,"y":914},{"b":"e","i":2,"x":1141,"y":1384},{"b":"e","i":3,"x":1133,"y":1384}],
"ringsE":[
{"ring":1,"i":0,"x":0,"y":0.125},{"ring":1,"i":1,"x":-0.125,"y":-0.0625},{"ring":1,"i":2,"x":0.125,"y":-0.0625},{"ring":1,"i":3,"x":0,"y":0.125},
{"ring":2,"i":0,"x":0,"y":0.25},{"ring":2,"i":1,"x":-0.25,"y":-0.125},{"ring":2,"i":2,"x":0.25,"y":-0.125},{"ring":2,"i":3,"x":0,"y":0.25},
{"ring":3,"i":0,"x":0,"y":0.375},{"ring":3,"i":1,"x":-0.375,"y":-0.1875},{"ring":3,"i":2,"x":0.375,"y":-0.1875},{"ring":3,"i":3,"x":0,"y":0.375},
{"ring":4,"i":0,"x":0,"y":0.5},{"ring":4,"i":1,"x":-0.5,"y":-0.25},{"ring":4,"i":2,"x":0.5,"y":-0.25},{"ring":4,"i":3,"x":0,"y":0.5},
{"ring":5,"i":0,"x":0,"y":0.625},{"ring":5,"i":1,"x":-0.625,"y":-0.3125},{"ring":5,"i":2,"x":0.625,"y":-0.3125},{"ring":5,"i":3,"x":0,"y":0.625},
{"ring":6,"i":0,"x":0,"y":0.75},{"ring":6,"i":1,"x":-0.75,"y":-0.375},{"ring":6,"i":2,"x":0.75,"y":-0.375},{"ring":6,"i":3,"x":0,"y":0.75},
{"ring":7,"i":0,"x":0,"y":0.875},{"ring":7,"i":1,"x":-0.875,"y":-0.4375},{"ring":7,"i":2,"x":0.875,"y":-0.4375},{"ring":7,"i":3,"x":0,"y":0.875},
{"ring":8,"i":0,"x":0,"y":1},{"ring":8,"i":1,"x":-1,"y":-0.5},{"ring":8,"i":2,"x":1,"y":-0.5},{"ring":8,"i":3,"x":0,"y":1}],
"ringsF":[
{"ring":1,"i":0,"x":0,"y":0.143},{"ring":1,"i":1,"x":-0.143,"y":-0.071},{"ring":1,"i":2,"x":0.143,"y":-0.071},{"ring":1,"i":3,"x":0,"y":0.143},
{"ring":2,"i":0,"x":0,"y":0.286},{"ring":2,"i":1,"x":-0.286,"y":-0.143},{"ring":2,"i":2,"x":0.286,"y":-0.143},{"ring":2,"i":3,"x":0,"y":0.286},
{"ring":3,"i":0,"x":0,"y":0.429},{"ring":3,"i":1,"x":-0.429,"y":-0.214},{"ring":3,"i":2,"x":0.429,"y":-0.214},{"ring":3,"i":3,"x":0,"y":0.429},
{"ring":4,"i":0,"x":0,"y":0.571},{"ring":4,"i":1,"x":-0.571,"y":-0.286},{"ring":4,"i":2,"x":0.571,"y":-0.286},{"ring":4,"i":3,"x":0,"y":0.571},
{"ring":5,"i":0,"x":0,"y":0.714},{"ring":5,"i":1,"x":-0.714,"y":-0.357},{"ring":5,"i":2,"x":0.714,"y":-0.357},{"ring":5,"i":3,"x":0,"y":0.714},
{"ring":6,"i":0,"x":0,"y":0.857},{"ring":6,"i":1,"x":-0.857,"y":-0.429},{"ring":6,"i":2,"x":0.857,"y":-0.429},{"ring":6,"i":3,"x":0,"y":0.857},
{"ring":7,"i":0,"x":0,"y":1},{"ring":7,"i":1,"x":-1,"y":-0.5},{"ring":7,"i":2,"x":1,"y":-0.5},{"ring":7,"i":3,"x":0,"y":1}],
"spokes":[{"x":0,"y":0,"x2":0,"y2":1},{"x":0,"y":0,"x2":-1,"y2":-0.5},{"x":0,"y":0,"x2":1,"y2":-0.5}],
"scores":[{"x":-101.3,"y":-26.4},{"x":-82.3,"y":-7.7},{"x":-74.8,"y":-17.3},{"x":-69.6,"y":-17.9},{"x":-67.2,"y":-10.6},{"x":-60.2,"y":-10.1},{"x":-59.1,"y":-24.2},{"x":-59.1,"y":-20.1},{"x":-57.4,"y":-18.1},{"x":-55.4,"y":-10.1},{"x":-52.8,"y":-6},{"x":-52.6,"y":-8.6},{"x":-51.5,"y":-15.3},{"x":-49.8,"y":-5.2},{"x":-49.9,"y":-8.9},{"x":-50.2,"y":-12.5},{"x":-49.5,"y":-14},{"x":-48,"y":-15.5},{"x":-47.3,"y":-9.2},{"x":-45.2,"y":-13.3},{"x":-43.6,"y":-20.7},{"x":-41.3,"y":-8.9},{"x":-37.4,"y":0},{"x":-34.7,"y":-1.2},{"x":-32.8,"y":-5.7}]
},
"layer":[
{"encoding":{"x":{"field":"x","type":"quantitative","scale":{"domain":[0,1244],"range":[0,1244]},"axis":null},"y":{"field":"y","type":"quantitative","scale":{"domain":[0,1733],"range":[0,1733]},"axis":null}},
"layer":[
{"data":{"values":[{"x":9,"x2":1240,"y":74,"y2":353}]},"mark":{"type":"rect","fill":"white","stroke":"#8a8a8a","strokeWidth":1.5},"encoding":{"x2":{"field":"x2"},"y2":{"field":"y2"}}},
{"data":{"values":[{"x":417.5,"y":74,"y2":353},{"x":831.5,"y":74,"y2":353}]},"mark":{"type":"rule","stroke":"#999","strokeDash":[3,3],"strokeWidth":1.2},"encoding":{"y2":{"field":"y2"}}},
{"data":{"values":[{"h":"Young vs. Old","x":11,"x2":415,"y":40,"y2":71},{"h":"0.25Nico vs. Saccharin (Old)","x":424,"x2":826,"y":40,"y2":71},{"h":"0.5Nico vs. Saccharin (Old)","x":835.5,"x2":1239,"y":40,"y2":71}]},"mark":"rect","encoding":{"x2":{"field":"x2"},"y2":{"field":"y2"},"fill":{"field":"h","type":"nominal","scale":{"domain":["Young vs. Old","0.25Nico vs. Saccharin (Old)","0.5Nico vs. Saccharin (Old)"],"range":["#3CB371","#5FC0B2","#4A7A9E"]},"legend":null}}},
{"data":{"values":[{"h":"Young vs. Old","x":201,"y":55}]},"mark":{"type":"text","fontSize":23,"fontWeight":"bold","fill":"#F3FAF5","baseline":"middle"},"encoding":{"text":{"field":"h"}}},
{"data":{"values":[{"h":"0.25Nico vs. Saccharin (Old)","x":634,"y":56},{"h":"0.5Nico vs. Saccharin (Old)","x":1036,"y":55}]},"mark":{"type":"text","fontSize":20.8,"fontWeight":"bold","fill":"#F3FAF5","baseline":"middle"},"encoding":{"text":{"field":"h"}}},
{"data":{"name":"hulls"},"mark":{"type":"area","orient":"vertical","interpolate":"monotone","opacity":0.18},"encoding":{"y2":{"field":"y2"},"detail":{"field":"h"},"color":{"field":"t","type":"nominal","scale":{"domain":["Plasma","Liver","Pancreas","WAT","Muscle"],"range":["#F0906A","#9DB6DC","#F7C544","#EE93AE","#7DC5AA"]},"legend":{"orient":"none","legendX":367,"legendY":7,"direction":"horizontal","columns":5,"title":null,"symbolSize":784,"symbolType":"circle","symbolOpacity":1,"labelFontSize":19,"labelOffset":5,"columnPadding":14,"gridAlign":"none"}}}},
{"data":{"name":"edges"},"mark":{"type":"rule","strokeWidth":1.7},"encoding":{"x2":{"field":"x2"},"y2":{"field":"y2"},"stroke":{"field":"sign","type":"nominal","scale":{"domain":["positive","negative"],"range":["#C96A52","#2B7DB0"]},"legend":null}}},
{"data":{"name":"nodes"},"mark":{"type":"point","shape":"circle","filled":true,"opacity":1},"encoding":{"size":{"field":"s","type":"quantitative","scale":{"domain":[0,2000],"range":[0,2546]},"legend":null},"color":{"field":"t","type":"nominal","scale":{"domain":["Plasma","Liver","Pancreas","WAT","Muscle"],"range":["#F0906A","#9DB6DC","#F7C544","#EE93AE","#7DC5AA"]},"legend":{"orient":"none","legendX":367,"legendY":7,"direction":"horizontal","columns":5,"title":null,"symbolSize":784,"symbolType":"circle","symbolOpacity":1,"labelFontSize":19,"labelOffset":5,"columnPadding":14,"gridAlign":"none"}}}},
{"data":{"name":"nodeLabels"},"mark":{"type":"text","fontSize":19,"fill":"#111","baseline":"middle"},"encoding":{"text":{"field":"l"}}},
{"data":{"values":[{"l":"1α","x":165,"y":346},{"l":"1α","x":772,"y":277}]},"mark":{"type":"text","fontSize":10,"fill":"#111","baseline":"middle"},"encoding":{"text":{"field":"l"}}}
]},
{"data":{"values":[{"t":"Plasma","x":326,"x2":494,"y":369,"y2":382},{"t":"Liver","x":499,"x2":547.5,"y":369,"y2":382},{"t":"Pancreas","x":554,"x2":578,"y":369,"y2":382},{"t":"WAT","x":584,"x2":752,"y":369,"y2":382},{"t":"Muscle","x":758,"x2":855,"y":369,"y2":382}]},"mark":"rect","encoding":{"x":{"field":"x","type":"quantitative","scale":{"domain":[0,1244],"range":[0,1244]},"axis":null},"x2":{"field":"x2"},"y":{"field":"y","type":"quantitative","scale":{"domain":[0,1733],"range":[0,1733]},"axis":null},"y2":{"field":"y2"},"color":{"field":"t","type":"nominal","scale":{"domain":["Plasma","Liver","Pancreas","WAT","Muscle"],"range":["#F0906A","#9DB6DC","#F7C544","#EE93AE","#7DC5AA"]},"legend":{"orient":"none","legendX":961,"legendY":913,"title":null,"symbolType":"square","symbolSize":144,"labelFontSize":18.5,"labelOffset":1,"rowPadding":9.7}}}},
{"data":{"values":[{"v":0.4},{"v":0.2},{"v":0},{"v":-0.2},{"v":-0.4},{"v":-0.6},{"v":-0.8}]},"mark":{"type":"point","opacity":0},"encoding":{"color":{"field":"v","type":"quantitative","scale":{"domain":[-0.86,-0.6,-0.38,-0.2,-0.05,0.13,0.28,0.46],"range":["#3F6DAE","#3F6DAE","#8FAFD3","#F5F9FA","#F3E7C7","#F5C77E","#E88A45","#CF3B2A"]},"legend":{"orient":"none","legendX":964,"legendY":1060,"title":null,"gradientLength":171,"gradientThickness":21,"gradientStrokeWidth":0,"values":[-0.8,-0.6,-0.4,-0.2,0,0.2,0.4],"format":"~g","labelExpr":"replace(datum.label,'−','-')","labelFontSize":18.5,"labelOffset":4,"labelOverlap":false}}}},
{"data":{"name":"plasma"},"encoding":{"x":{"field":"m","type":"nominal","sort":null,"scale":{"type":"band","domain":["PC(22:6)","DHCA","SM(d18:1/22:0)","PC(15:0/16:0)","TA","TEA","PGE₂"],"range":[326,494],"paddingInner":0,"paddingOuter":0},"axis":{"orient":"bottom","offset":-941,"title":null,"domain":false,"ticks":false,"labelAngle":270,"labelAlign":"right","labelBaseline":"middle","labelPadding":4,"labelFontSize":18.8,"labelLimit":300}},"y":{"field":"r","type":"ordinal","scale":{"type":"band","domain":[0,1,2,3,4,5,6,7,8,9,10,11,12,13,14,15,16],"range":[386,792],"paddingInner":0,"paddingOuter":0},"axis":null}},
"layer":[{"mark":{"type":"rect","stroke":"#A8A8A8","strokeWidth":1.5},"encoding":{"color":{"field":"v","type":"quantitative","scale":{"domain":[-1,-0.6,-0.3,0,0.3,0.6,1],"range":["#C2207F","#D463A5","#EEB9D8","#F7F7F7","#D5E8B8","#8FC463","#44892B"]},"legend":null}}},{"transform":[{"filter":"datum.s"}],"mark":{"type":"text","fontSize":21,"dy":4,"fill":"#111","baseline":"middle"},"encoding":{"text":{"field":"s"}}}]},
{"data":{"name":"liver"},"encoding":{"x":{"field":"m","type":"nominal","sort":null,"scale":{"type":"band","domain":["D-PA","13-cis-Retinal"],"range":[499,547.5],"paddingInner":0,"paddingOuter":0},"axis":{"orient":"bottom","offset":-941,"title":null,"domain":false,"ticks":false,"labelAngle":270,"labelAlign":"right","labelBaseline":"middle","labelPadding":4,"labelFontSize":18.8,"labelLimit":300}},"y":{"field":"r","type":"ordinal","scale":{"type":"band","domain":[0,1,2,3,4,5,6,7,8,9,10,11,12,13,14,15,16],"range":[386,792],"paddingInner":0,"paddingOuter":0},"axis":null}},
"layer":[{"mark":{"type":"rect","stroke":"#A8A8A8","strokeWidth":1.5},"encoding":{"color":{"field":"v","type":"quantitative","scale":{"domain":[-1,-0.6,-0.3,0,0.3,0.6,1],"range":["#C2207F","#D463A5","#EEB9D8","#F7F7F7","#D5E8B8","#8FC463","#44892B"]},"legend":null}}},{"transform":[{"filter":"datum.s"}],"mark":{"type":"text","fontSize":21,"dy":4,"fill":"#111","baseline":"middle"},"encoding":{"text":{"field":"s"}}}]},
{"data":{"name":"pancreas"},"encoding":{"x":{"field":"m","type":"nominal","sort":null,"scale":{"type":"band","domain":["PC(22:5)"],"range":[554,578],"paddingInner":0,"paddingOuter":0},"axis":{"orient":"bottom","offset":-941,"title":null,"domain":false,"ticks":false,"labelAngle":270,"labelAlign":"right","labelBaseline":"middle","labelPadding":4,"labelFontSize":18.8,"labelLimit":300}},"y":{"field":"r","type":"ordinal","scale":{"type":"band","domain":[0,1,2,3,4,5,6,7,8,9,10,11,12,13,14,15,16],"range":[386,792],"paddingInner":0,"paddingOuter":0},"axis":null}},
"layer":[{"mark":{"type":"rect","stroke":"#A8A8A8","strokeWidth":1.5},"encoding":{"color":{"field":"v","type":"quantitative","scale":{"domain":[-1,-0.6,-0.3,0,0.3,0.6,1],"range":["#C2207F","#D463A5","#EEB9D8","#F7F7F7","#D5E8B8","#8FC463","#44892B"]},"legend":null}}},{"transform":[{"filter":"datum.s"}],"mark":{"type":"text","fontSize":21,"dy":4,"fill":"#111","baseline":"middle"},"encoding":{"text":{"field":"s"}}}]},
{"data":{"name":"wat"},"encoding":{"x":{"field":"m","type":"nominal","sort":null,"scale":{"type":"band","domain":["LA","LysoPC(18:1)","Pro","LysoPC(16:1)","IQ","GA","G6P"],"range":[584,752],"paddingInner":0,"paddingOuter":0},"axis":{"orient":"bottom","offset":-941,"title":null,"domain":false,"ticks":false,"labelAngle":270,"labelAlign":"right","labelBaseline":"middle","labelPadding":4,"labelFontSize":18.8,"labelLimit":300}},"y":{"field":"r","type":"ordinal","scale":{"type":"band","domain":[0,1,2,3,4,5,6,7,8,9,10,11,12,13,14,15,16],"range":[386,792],"paddingInner":0,"paddingOuter":0},"axis":null}},
"layer":[{"mark":{"type":"rect","stroke":"#A8A8A8","strokeWidth":1.5},"encoding":{"color":{"field":"v","type":"quantitative","scale":{"domain":[-1,-0.6,-0.3,0,0.3,0.6,1],"range":["#C2207F","#D463A5","#EEB9D8","#F7F7F7","#D5E8B8","#8FC463","#44892B"]},"legend":null}}},{"transform":[{"filter":"datum.s"}],"mark":{"type":"text","fontSize":21,"dy":4,"fill":"#111","baseline":"middle"},"encoding":{"text":{"field":"s"}}}]},
{"data":{"name":"muscle"},"encoding":{"x":{"field":"m","type":"nominal","sort":null,"scale":{"type":"band","domain":["3-MH","SPA","Tyr","α-KG"],"range":[758,855],"paddingInner":0,"paddingOuter":0},"axis":{"orient":"bottom","offset":-941,"title":null,"domain":false,"ticks":false,"labelAngle":270,"labelAlign":"right","labelBaseline":"middle","labelPadding":4,"labelFontSize":18.8,"labelLimit":300}},"y":{"field":"r","type":"ordinal","scale":{"type":"band","domain":[0,1,2,3,4,5,6,7,8,9,10,11,12,13,14,15,16],"range":[386,792],"paddingInner":0,"paddingOuter":0},"axis":{"orient":"right","offset":-389,"title":null,"domain":false,"ticks":false,"labelPadding":2,"labelFontSize":17.7,"labelLimit":400,"labelAngle":0,"labelExpr":"['22-month OFT-Total distance','22-month Rotarod test R=25','Frame distance','Movement speed (back)','Movement energy (back)','Running','Center time ratio','Body lenth','Falling with a right turn','Rearing','Trotting and exploring','Walking while sniffing with the head down','Walking while sniffing with a left turn','Walking while sniffing with a right turn','Pausing followed by sniffing','Cotinine','Nicotine'][datum.value]"}}},
"layer":[{"mark":{"type":"rect","stroke":"#A8A8A8","strokeWidth":1.5},"encoding":{"color":{"field":"v","type":"quantitative","scale":{"domain":[-1,-0.6,-0.3,0,0.3,0.6,1],"range":["#C2207F","#D463A5","#EEB9D8","#F7F7F7","#D5E8B8","#8FC463","#44892B"]},"legend":null}}},{"transform":[{"filter":"datum.s"}],"mark":{"type":"text","fontSize":21,"dy":4,"fill":"#111","baseline":"middle"},"encoding":{"text":{"field":"s"}}}]},
{"encoding":{"x":{"field":"x","type":"quantitative","scale":{"domain":[-1,2],"range":[98,273]},"axis":{"orient":"bottom","offset":-903,"values":[-1,-0.5,0,0.5,1,1.5,2],"format":".1f","labelExpr":"replace(datum.label,'−','-')","labelFontSize":15.5,"title":"Relative Intensity of NAD⁺","titleFontSize":18.8,"tickSize":5,"labelPadding":5,"titlePadding":0}},"y":{"field":"y","type":"quantitative","scale":{"domain":[-0.407,3.43],"range":[830,490]},"axis":{"orient":"left","offset":-98,"values":[0,1,2,3],"labelExpr":"['Muscle','WAT','Pancreas','Liver'][datum.value]","labelFontSize":18.5,"title":null,"tickSize":3,"labelPadding":4}}},
"layer":[
{"data":{"name":"violinsB"},"mark":{"type":"area","orient":"vertical","interpolate":"monotone","opacity":1},"encoding":{"y2":{"field":"y2"},"detail":{"field":"v"},"color":{"field":"g","type":"nominal","scale":{"domain":["Saccharin","0.5Nico"],"range":["#EFA92F","#1D6A96"]},"legend":{"orient":"none","legendX":185,"legendY":432,"title":null,"symbolType":"M-1,-0.52H1V0.52H-1Z","symbolSize":729,"symbolStrokeWidth":0,"labelFontSize":21,"labelOffset":7,"rowPadding":1.5}}}},
{"data":{"values":[{"x":0,"y":-0.45,"y2":3.43}]},"mark":{"type":"rule","stroke":"#111","strokeWidth":2.6,"strokeDash":[2.5,4]},"encoding":{"y2":{"field":"y2"}}},
{"data":{"name":"statsB"},"mark":{"type":"rule","stroke":"#111"},"encoding":{"y2":{"field":"y2"},"size":{"field":"k","type":"nominal","scale":{"domain":["median","quartile"],"range":[3.2,1.6]},"legend":null}}},
{"data":{"name":"dotsB"},"mark":{"type":"point","shape":"circle","filled":true,"fill":"white","stroke":"#111","strokeWidth":1.2,"size":64,"opacity":1}},
{"data":{"name":"bracketsB"},"mark":{"type":"line","stroke":"#333","strokeWidth":1.3},"encoding":{"detail":{"field":"b"},"order":{"field":"i"}}},
{"data":{"name":"pB"},"mark":{"type":"text","align":"left","baseline":"middle","fontSize":14.5,"fill":"#222"},"encoding":{"text":{"field":"l"}}}
]},
{"encoding":{"x":{"field":"x","type":"quantitative","scale":{"domain":[-1,2],"range":[98.3,274]},"axis":{"orient":"bottom","offset":-496,"values":[-1,0,1,2],"format":".1f","labelExpr":"replace(datum.label,'−','-')","labelFontSize":15.5,"title":"Relative Intensity of NMN","titleFontSize":18.7,"tickSize":3.5,"labelPadding":0,"titlePadding":3}},"y":{"field":"y","type":"quantitative","scale":{"domain":[-0.464,3.43],"range":[1237,893]},"axis":{"orient":"left","offset":-98.3,"values":[0,1,2,3],"labelExpr":"['Muscle','WAT','Pancreas','Liver'][datum.value]","labelFontSize":18.5,"title":null,"tickSize":3,"labelPadding":4}}},
"layer":[
{"data":{"name":"violinsC"},"mark":{"type":"area","orient":"vertical","interpolate":"monotone","opacity":1},"encoding":{"y2":{"field":"y2"},"detail":{"field":"v"},"color":{"field":"g","type":"nominal","scale":{"domain":["Saccharin","0.5Nico"],"range":["#EFA92F","#1D6A96"]},"legend":null}}},
{"data":{"values":[{"x":0,"y":-0.464,"y2":3.43}]},"mark":{"type":"rule","stroke":"#111","strokeWidth":2.6,"strokeDash":[2.5,4]},"encoding":{"y2":{"field":"y2"}}},
{"data":{"name":"statsC"},"mark":{"type":"rule","stroke":"#111"},"encoding":{"y2":{"field":"y2"},"size":{"field":"k","type":"nominal","scale":{"domain":["median","quartile"],"range":[3.2,1.6]},"legend":null}}},
{"data":{"name":"dotsC"},"mark":{"type":"point","shape":"circle","filled":true,"fill":"white","stroke":"#111","strokeWidth":1.2,"size":64,"opacity":1}},
{"data":{"values":[{"i":0,"x":1.32,"y":0.14},{"i":1,"x":1.42,"y":0.14},{"i":2,"x":1.42,"y":-0.24},{"i":3,"x":1.32,"y":-0.24}]},"mark":{"type":"line","stroke":"#333","strokeWidth":1.3},"encoding":{"order":{"field":"i"}}},
{"data":{"values":[{"l":"P=0.0087","x":1.52,"y":-0.065}]},"mark":{"type":"text","align":"left","baseline":"middle","fontSize":14.5,"fill":"#222"},"encoding":{"text":{"field":"l"}}}
]},
{"encoding":{"x":{"field":"x","type":"quantitative","scale":{"domain":[0,1244],"range":[0,1244]},"axis":null},"y":{"field":"y","type":"quantitative","scale":{"domain":[0,1733],"range":[0,1733]},"axis":null}},
"layer":[
{"data":{"name":"links"},"mark":{"type":"line","interpolate":"catmull-rom","strokeWidth":5},"encoding":{"detail":{"field":"l"},"order":{"field":"i"},"color":{"field":"k","type":"nominal","scale":{"domain":["green","teal","yellow","purple"],"range":["#A8CFAE","#4FB0A8","#F6E81A","#B0A8CC"]},"legend":null}}},
{"data":{"name":"ends"},"mark":{"type":"rule","strokeWidth":13},"encoding":{"y2":{"field":"y2"},"color":{"field":"k","type":"nominal","scale":{"domain":["green","teal","yellow","purple"],"range":["#A8CFAE","#4FB0A8","#F6E81A","#B0A8CC"]},"legend":null}}},
{"data":{"name":"pathways"},"mark":{"type":"text","angle":270,"align":"right","baseline":"middle","fontSize":18.8,"fill":"#222"},"encoding":{"text":{"field":"l"}}},
{"data":{"name":"brackets"},"mark":{"type":"line","stroke":"#555","strokeWidth":1.5},"encoding":{"detail":{"field":"b"},"order":{"field":"i"}}},
{"data":{"values":[{"x":160,"x2":1078,"y":1439}]},"mark":{"type":"rule","stroke":"#111","strokeWidth":2},"encoding":{"x2":{"field":"x2"}}},
{"data":{"values":[{"l":"A","x":12,"y":14},{"l":"B","x":11,"y":493},{"l":"C","x":11,"y":892},{"l":"D","x":310,"y":381},{"l":"E","x":162,"y":1461},{"l":"F","x":478,"y":1461},{"l":"G","x":800,"y":1461}]},"mark":{"type":"text","fontSize":23,"fontWeight":"bold","fill":"#111","baseline":"middle"},"encoding":{"text":{"field":"l"}}},
{"data":{"values":[{"l":"The BMAge Score","x":577,"y":1422}]},"mark":{"type":"text","fontSize":29.2,"fontWeight":"bold","fill":"#111","baseline":"middle"},"encoding":{"text":{"field":"l"}}},
{"data":{"values":[{"l":"24 months old:","x":101,"y":446},{"l":"Behavioral Phenotype","x":305,"y":1717},{"l":"Metabolomic Change","x":626,"y":1717}]},"mark":{"type":"text","fontSize":21,"fill":"#222","baseline":"middle"},"encoding":{"text":{"field":"l"}}},
{"data":{"values":[{"l":"Motor","x":1200,"y":458},{"l":"performance","x":1227,"y":457},{"l":"Anxiety","x":1200,"y":553},{"l":"Movement","x":1200,"y":659},{"l":"sequences","x":1227,"y":659},{"l":"Nicotine","x":1200,"y":768},{"l":"level","x":1225,"y":767}]},"mark":{"type":"text","angle":270,"fontSize":20.5,"fill":"#222","baseline":"middle"},"encoding":{"text":{"field":"l"}}},
{"data":{"values":[{"l":"Energy metabolism","x":1153,"y":1149},{"l":"pathway","x":1177,"y":1149}]},"mark":{"type":"text","angle":270,"fontSize":18.7,"fill":"#222","baseline":"middle"},"encoding":{"text":{"field":"l"}}},
{"data":{"values":[{"l":"Water (Old)","x":306,"y":1480},{"l":"0.25Nico (Old)","x":202,"y":1696},{"l":"0.5Nico (Old)","x":413,"y":1696},{"l":"Water (Old)","x":627,"y":1477},{"l":"0.25Nico (Old)","x":522,"y":1696},{"l":"0.5Nico(Old)","x":742,"y":1696}]},"mark":{"type":"text","fontSize":14.3,"fontWeight":"bold","fill":"#222","baseline":"middle"},"encoding":{"text":{"field":"l"}}},
{"data":{"values":[{"l":"Young","x":332,"y":1616},{"l":"Young","x":655,"y":1611}]},"mark":{"type":"text","fontSize":14.5,"fill":"#222","baseline":"middle"},"encoding":{"text":{"field":"l"}}}
]},
{"encoding":{"x":{"field":"x","type":"quantitative","scale":{"domain":[-1,1],"range":[197,413]},"axis":null},"y":{"field":"y","type":"quantitative","scale":{"domain":[-0.5,1],"range":[1683,1494]},"axis":{"orient":"left","offset":-299,"values":[0,0.125,0.25,0.375,0.5,0.625,0.75,0.875,1],"labelExpr":"format(4+16*datum.value,'d')","domain":false,"ticks":false,"labelPadding":0,"labelFontSize":10,"labelFontWeight":"bold","title":null}}},
"layer":[
{"data":{"name":"ringsE"},"mark":{"type":"line","strokeWidth":1.2},"encoding":{"detail":{"field":"ring"},"order":{"field":"i"},"stroke":{"condition":{"test":"datum.ring==8","value":"#777"},"value":"#c2c2c2"}}},
{"data":{"name":"spokes"},"mark":{"type":"rule","stroke":"#b5b5b5","strokeWidth":1},"encoding":{"x2":{"field":"x2"},"y2":{"field":"y2"}}},
{"data":{"values":[{"x":-0.31,"y":-0.155,"y2":-0.155},{"x":0,"y":0.6,"y2":-0.135},{"x":0.24,"y":-0.12,"y2":-0.12}]},"mark":{"type":"area","orient":"vertical","fill":"#BBD9EF","opacity":0.45},"encoding":{"y2":{"field":"y2"}}},
{"data":{"values":[{"g":"Water","x":0,"y":0,"x2":0,"y2":0.77},{"g":"0.25Nico","x":0,"y":0,"x2":-0.26,"y2":-0.14},{"g":"0.5Nico","x":0,"y":0,"x2":0.12,"y2":-0.06}]},"mark":{"type":"rule","strokeWidth":9.5},"encoding":{"x2":{"field":"x2"},"y2":{"field":"y2"},"color":{"field":"g","type":"nominal","scale":{"domain":["Water","0.25Nico","0.5Nico","Young"],"range":["#A9ADB8","#2FBFAB","#1F6C94","#12A04A"]},"legend":null}}},
{"data":{"values":[{"g":"Water","x":0,"y":0.8,"heading":0},{"g":"0.25Nico","x":-0.285,"y":-0.155,"heading":240},{"g":"0.5Nico","x":0.135,"y":-0.07,"heading":120}]},"mark":{"type":"point","shape":"triangle-up","filled":true,"size":200,"opacity":1},"encoding":{"angle":{"field":"heading","type":"quantitative","scale":{"domain":[0,360],"range":[0,360]},"legend":null},"color":{"field":"g","type":"nominal","scale":{"domain":["Water","0.25Nico","0.5Nico","Young"],"range":["#A9ADB8","#2FBFAB","#1F6C94","#12A04A"]},"legend":null}}},
{"data":{"values":[{"g":"Young","x":0,"y":0}]},"mark":{"type":"point","shape":"circle","filled":true,"size":130,"opacity":1},"encoding":{"color":{"field":"g","type":"nominal","scale":{"domain":["Water","0.25Nico","0.5Nico","Young"],"range":["#A9ADB8","#2FBFAB","#1F6C94","#12A04A"]},"legend":null}}}
]},
{"encoding":{"x":{"field":"x","type":"quantitative","scale":{"domain":[-1,1],"range":[515.5,736]},"axis":null},"y":{"field":"y","type":"quantitative","scale":{"domain":[-0.5,1],"range":[1683,1494]},"axis":{"orient":"left","offset":-619,"values":[0,0.14286,0.28571,0.42857,0.57143,0.71429,0.85714,1],"labelExpr":"format(35+35*datum.value,'d')","domain":false,"ticks":false,"labelPadding":0,"labelFontSize":10,"labelFontWeight":"bold","title":null}}},
"layer":[
{"data":{"name":"ringsF"},"mark":{"type":"line","strokeWidth":1.2},"encoding":{"detail":{"field":"ring"},"order":{"field":"i"},"stroke":{"condition":{"test":"datum.ring==7","value":"#777"},"value":"#c2c2c2"}}},
{"data":{"name":"spokes"},"mark":{"type":"rule","stroke":"#b5b5b5","strokeWidth":1},"encoding":{"x2":{"field":"x2"},"y2":{"field":"y2"}}},
{"data":{"values":[{"x":-0.5,"y":-0.12,"y2":-0.25},{"x":-0.22,"y":0.45,"y2":-0.28},{"x":0,"y":0.75,"y2":-0.17},{"x":0.1,"y":0.45,"y2":-0.15},{"x":0.2,"y":-0.08,"y2":-0.1}]},"mark":{"type":"area","orient":"vertical","fill":"#CFC3E2","opacity":0.45},"encoding":{"y2":{"field":"y2"}}},
{"data":{"values":[{"g":"Water","x":0,"y":0,"x2":0,"y2":0.83},{"g":"0.25Nico","x":0,"y":0,"x2":-0.53,"y2":-0.27},{"g":"0.5Nico","x":0,"y":0,"x2":0.16,"y2":-0.06}]},"mark":{"type":"rule","strokeWidth":10},"encoding":{"x2":{"field":"x2"},"y2":{"field":"y2"},"color":{"field":"g","type":"nominal","scale":{"domain":["Water","0.25Nico","0.5Nico","Young"],"range":["#A9ADB8","#2FBFAB","#1F6C94","#12A04A"]},"legend":null}}},
{"data":{"values":[{"g":"Water","x":0,"y":0.85,"heading":0},{"g":"0.25Nico","x":-0.55,"y":-0.28,"heading":240},{"g":"0.5Nico","x":0.18,"y":-0.07,"heading":120}]},"mark":{"type":"point","shape":"triangle-up","filled":true,"size":200,"opacity":1},"encoding":{"angle":{"field":"heading","type":"quantitative","scale":{"domain":[0,360],"range":[0,360]},"legend":null},"color":{"field":"g","type":"nominal","scale":{"domain":["Water","0.25Nico","0.5Nico","Young"],"range":["#A9ADB8","#2FBFAB","#1F6C94","#12A04A"]},"legend":null}}},
{"data":{"values":[{"g":"Young","x":0,"y":0}]},"mark":{"type":"point","shape":"circle","filled":true,"size":130,"opacity":1},"encoding":{"color":{"field":"g","type":"nominal","scale":{"domain":["Water","0.25Nico","0.5Nico","Young"],"range":["#A9ADB8","#2FBFAB","#1F6C94","#12A04A"]},"legend":null}}}
]},
{"encoding":{"x":{"field":"x","type":"quantitative","scale":{"domain":[-110,-20],"range":[854.7,1083.7]},"axis":{"orient":"bottom","offset":-50.3,"values":[-100,-80,-60,-40,-20],"labelExpr":"replace(datum.label,'−','-')","labelFontSize":18.5,"title":"Behavioral Score","titleFontSize":19,"tickSize":5,"labelPadding":2,"titlePadding":1}},"y":{"field":"y","type":"quantitative","scale":{"domain":[-80,20],"range":[1682.7,1454]},"axis":{"orient":"left","offset":-854.7,"values":[-80,-60,-40,-20,0,20],"labelExpr":"replace(datum.label,'−','-')","labelFontSize":18.5,"title":"Metabolomic Score","titleFontSize":19.5,"tickSize":5,"labelPadding":2,"titlePadding":0}}},
"layer":[
{"data":{"values":[{"x":-110,"x2":-20,"y":0}]},"mark":{"type":"rule","stroke":"#111","strokeWidth":2.4,"strokeDash":[2.5,4]},"encoding":{"x2":{"field":"x2"}}},
{"data":{"values":[{"x":-101.3,"y":-23.5},{"x":-33.8,"y":-6.9}]},"mark":{"type":"line","stroke":"#E0694A","strokeWidth":2.2}},
{"data":{"name":"scores"},"mark":{"type":"point","shape":"circle","filled":true,"fill":"#111","size":90,"opacity":1}},
{"data":{"values":[{"l":"Y = 0.2452*X + 1.362","x":-106.8,"y":-65},{"l":"P = 0.0044","x":-106.8,"y":-74.2}]},"mark":{"type":"text","align":"left","baseline":"middle","fontSize":19,"fill":"#222"},"encoding":{"text":{"field":"l"}}}
]}
]}
